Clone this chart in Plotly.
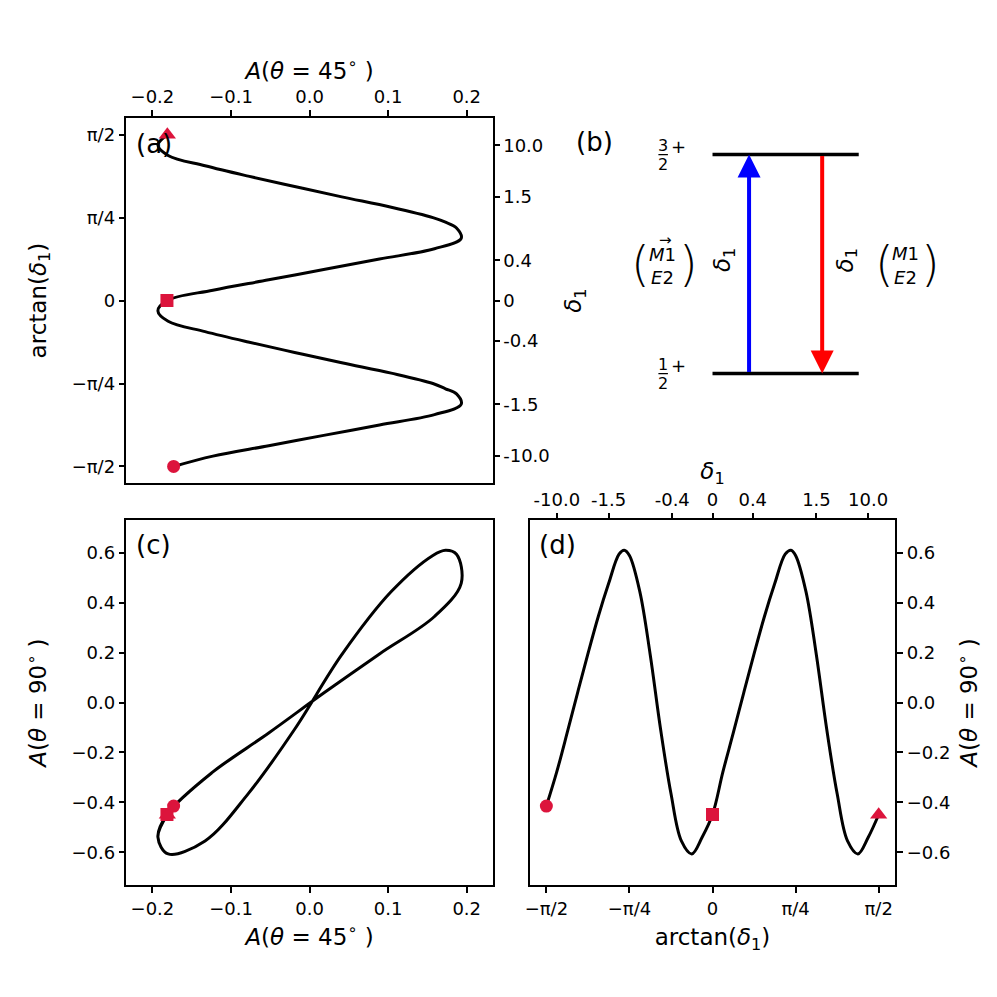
import numpy as np
import plotly.graph_objects as go

# ===== 数据=====
# arctan(delta1) 采样点
arct = [-1.5708, -1.4726, -1.3744, -1.2763, -1.1781, -1.0799, -0.9817, -0.8836, -0.835,
        -0.7854, -0.6872, -0.5890, -0.4909, -0.3927, -0.2945, -0.1963, -0.0982, 0.0,
        0.0982, 0.1963, 0.2945, 0.3927, 0.4909, 0.5890, 0.6872, 0.742,
        0.7854, 0.8836, 0.9817, 1.0799, 1.1781, 1.2763, 1.3744, 1.4726, 1.5708]
# A(theta=45deg)
a45 = [-0.173, -0.123, -0.052, 0.018, 0.089, 0.159, 0.193, 0.187, 0.173,
       0.157, 0.104, 0.041, -0.019, -0.078, -0.133, -0.180, -0.193, -0.1815,
       -0.123, -0.052, 0.018, 0.089, 0.159, 0.193, 0.187, 0.173,
       0.157, 0.104, 0.041, -0.019, -0.078, -0.133, -0.180, -0.193, -0.181]
# A(theta=90deg)
a90 = [-0.415, -0.278, -0.122, 0.038, 0.195, 0.345, 0.478, 0.595, 0.611,
       0.59, 0.445, 0.192, -0.107, -0.365, -0.555, -0.607, -0.54, -0.449,
       -0.278, -0.122, 0.038, 0.195, 0.345, 0.478, 0.595, 0.611,
       0.59, 0.445, 0.192, -0.107, -0.365, -0.555, -0.607, -0.54, -0.45]

# 刻度
pi_vals = [-np.pi / 2, -np.pi / 4, 0, np.pi / 4, np.pi / 2]
pi_text = ['−π/2', '−π/4', '0', 'π/4', 'π/2']
delta_ticks = [-10.0, -1.5, -0.4, 0.0, 0.4, 1.5, 10.0]
delta_text = ['-10.0', '-1.5', '-0.4', '0', '0.4', '1.5', '10.0']
a45_ticks = [-0.2, -0.1, 0.0, 0.1, 0.2]
a45_text = ['−0.2', '−0.1', '0.0', '0.1', '0.2']
a90_ticks = [-0.6, -0.4, -0.2, 0.0, 0.2, 0.4, 0.6]
a90_text = ['−0.6', '−0.4', '−0.2', '0.0', '0.2', '0.4', '0.6']

# (b) 能级图
level_y = [0.3, 0.9]
level_num = ['1', '3']
level_x = [0.5, 0.9]
trans_x = [0.6, 0.8]

FONT = 'DejaVu Sans'
CRIMSON = '#DC143C'
T_RANGE = [-1.728, 1.728]
A45_RANGE = [-0.233, 0.233]
A90_RANGE = [-0.733, 0.733]

DOM_L = [0.1144, 0.4835]
DOM_R = [0.5209, 0.8894]
DOM_T = [0.5235, 0.8896]
DOM_B = [0.1200, 0.4867]
B_XMAX = 1.2
DOM_BX = [DOM_R[0], DOM_R[0] + B_XMAX * (DOM_R[1] - DOM_R[0])]

t_a45 = '<i>A</i>(<i>θ</i> = 45<sup>∘</sup> )'
t_a90 = '<i>A</i>(<i>θ</i> = 90<sup>∘</sup> )'
t_arc = 'arctan(<i>δ</i><sub>1</sub>)'
t_del = '<i>δ</i><sub>1</sub>'

fig = go.Figure()
line = dict(color='black', width=3, shape='spline', smoothing=1.0)


def add_markers(xs, ys, xa, ya):
    mid = arct.index(0.0)
    for i, sym, sz in [(0, 'circle', 13), (mid, 'square', 13), (len(xs) - 1, 'triangle-up', 15)]:
        fig.add_trace(go.Scatter(x=[xs[i]], y=[ys[i]], xaxis=xa, yaxis=ya, mode='markers',
                                 marker=dict(color=CRIMSON, size=sz, symbol=sym), hoverinfo='skip'))


# (a)
fig.add_trace(go.Scatter(x=a45, y=arct, xaxis='x', yaxis='y', mode='lines', line=line))
fig.add_trace(go.Scatter(x=a45, y=arct, xaxis='x', yaxis='y2', mode='lines',
                         line=dict(width=0), opacity=0, hoverinfo='skip'))
add_markers(a45, arct, 'x', 'y')
# (c)
fig.add_trace(go.Scatter(x=a45, y=a90, xaxis='x3', yaxis='y3', mode='lines', line=line))
add_markers(a45, a90, 'x3', 'y3')
# (d)
fig.add_trace(go.Scatter(x=arct, y=a90, xaxis='x4', yaxis='y4', mode='lines', line=line))
fig.add_trace(go.Scatter(x=arct, y=a90, xaxis='x5', yaxis='y4', mode='lines',
                         line=dict(width=0), opacity=0, hoverinfo='skip'))
add_markers(arct, a90, 'x4', 'y4')
# (b) 能级
for ly in level_y:
    fig.add_trace(go.Scatter(x=level_x, y=[ly, ly], xaxis='x6', yaxis='y6', mode='lines',
                             line=dict(color='black', width=3.5), hoverinfo='skip'))

ax_common = dict(showgrid=False, zeroline=False, showline=True, linecolor='black', linewidth=1.5,
                 mirror=True, ticks='outside', ticklen=6, tickwidth=1.5, tickcolor='black',
                 tickfont=dict(family=FONT, size=18, color='black'))
title_font = dict(family=FONT, size=23, color='black')

fig.update_layout(
    width=997, height=997, margin=dict(l=0, r=0, t=0, b=0),
    paper_bgcolor='white', plot_bgcolor='white', showlegend=False,
    font=dict(family=FONT, color='black'),
    xaxis=dict(ax_common, domain=DOM_L, anchor='y', side='top', range=A45_RANGE,
               tickvals=a45_ticks, ticktext=a45_text,
               title=dict(text=t_a45, font=title_font, standoff=0)),
    yaxis=dict(ax_common, domain=DOM_T, anchor='x', range=T_RANGE,
               tickvals=pi_vals, ticktext=pi_text,
               title=dict(text=t_arc, font=title_font, standoff=19)),
    yaxis2=dict(ax_common, overlaying='y', anchor='x', side='right', range=T_RANGE,
                showline=False, tickvals=np.arctan(delta_ticks), ticktext=delta_text,
                title=dict(text=t_del, font=title_font, standoff=16)),
    xaxis3=dict(ax_common, domain=DOM_L, anchor='y3', range=A45_RANGE,
                tickvals=a45_ticks, ticktext=a45_text,
                title=dict(text=t_a45, font=title_font, standoff=11)),
    yaxis3=dict(ax_common, domain=DOM_B, anchor='x3', range=A90_RANGE,
                tickvals=a90_ticks, ticktext=a90_text,
                title=dict(text=t_a90, font=title_font, standoff=18)),
    xaxis4=dict(ax_common, domain=DOM_R, anchor='y4', range=T_RANGE,
                tickvals=pi_vals, ticktext=pi_text,
                title=dict(text=t_arc, font=title_font, standoff=11)),
    xaxis5=dict(ax_common, overlaying='x4', anchor='y4', side='top', range=T_RANGE,
                showline=False, tickvals=np.arctan(delta_ticks), ticktext=delta_text,
                title=dict(text=t_del, font=title_font, standoff=2)),
    yaxis4=dict(ax_common, domain=DOM_B, anchor='x4', side='right', range=A90_RANGE,
                tickvals=a90_ticks, ticktext=a90_text,
                title=dict(text=t_a90, font=title_font, standoff=12)),
    xaxis6=dict(domain=DOM_BX, anchor='y6', range=[0, B_XMAX], visible=False),
    yaxis6=dict(domain=DOM_T, anchor='x6', range=[0, 1], visible=False),
)

# 面板标号
for lab, xr, yr in [('(a)', 'x', 'y'), ('(c)', 'x3', 'y3'), ('(d)', 'x4', 'y4')]:
    fig.add_annotation(text=lab, xref=xr + ' domain', yref=yr + ' domain', x=0.02, y=0.93,
                       xanchor='left', yanchor='middle', showarrow=False,
                       font=dict(family=FONT, size=26, color='black'))
fig.add_annotation(text='(b)', xref='x6', yref='y6', x=0.12, y=0.934, xanchor='left',
                   yanchor='middle', showarrow=False, font=dict(family=FONT, size=26, color='black'))

# (b) 能级标注 (分数 + 宇称)
for ly, num in zip(level_y, level_num):
    fig.add_annotation(text=num, xref='x6', yref='y6', x=0.365, y=ly + 0.026, showarrow=False,
                       font=dict(family=FONT, size=16, color='black'))
    fig.add_annotation(text='2', xref='x6', yref='y6', x=0.365, y=ly - 0.027, showarrow=False,
                       font=dict(family=FONT, size=16, color='black'))
    fig.add_annotation(text='+', xref='x6', yref='y6', x=0.407, y=ly + 0.023, showarrow=False,
                       font=dict(family=FONT, size=18, color='black'))
    fig.add_shape(type='line', xref='x6', yref='y6', x0=0.352, x1=0.378, y0=ly, y1=ly,
                  line=dict(color='black', width=1.2))

# (b) 跃迁箭头
fig.add_annotation(xref='x6', yref='y6', axref='x6', ayref='y6', x=trans_x[0], y=level_y[1],
                   ax=trans_x[0], ay=level_y[0], text='', showarrow=True, arrowhead=2,
                   arrowsize=1.15, arrowwidth=4, arrowcolor='blue', standoff=0)
fig.add_annotation(xref='x6', yref='y6', axref='x6', ayref='y6', x=trans_x[1], y=level_y[0],
                   ax=trans_x[1], ay=level_y[1], text='', showarrow=True, arrowhead=2,
                   arrowsize=1.15, arrowwidth=4, arrowcolor='red', standoff=0)
mid = (level_y[0] + level_y[1]) / 2
fig.add_annotation(text=t_del, xref='x6', yref='y6', x=0.533, y=mid + 0.01, textangle=-90,
                   showarrow=False, font=title_font)
fig.add_annotation(text=t_del, xref='x6', yref='y6', x=0.868, y=mid + 0.01, textangle=-90,
                   showarrow=False, font=title_font)

# 多极混合标注
for xc, xl, xr_, vec in [(0.362, 0.304, 0.434, True), (1.027, 0.971, 1.097, False)]:
    yoff = 0.002 if vec else 0.006
    fig.add_annotation(text='<i>M</i>1', xref='x6', yref='y6', x=xc, y=mid + 0.024 + yoff,
                       showarrow=False, font=dict(family=FONT, size=18, color='black'))
    fig.add_annotation(text='<i>E</i>2', xref='x6', yref='y6', x=xc, y=mid - 0.038,
                       showarrow=False, font=dict(family=FONT, size=18, color='black'))
    if vec:
        fig.add_annotation(text='→', xref='x6', yref='y6', x=xc + 0.01, y=mid + 0.066,
                           showarrow=False, font=dict(family=FONT, size=15, color='black'))
    for px, ch in [(xl, '('), (xr_, ')')]:
        fig.add_annotation(text=ch, xref='x6', yref='y6', x=px, y=mid, showarrow=False,
                           font=dict(family=FONT, size=48, color='black', weight=200))

fig.write_html('out.html')
